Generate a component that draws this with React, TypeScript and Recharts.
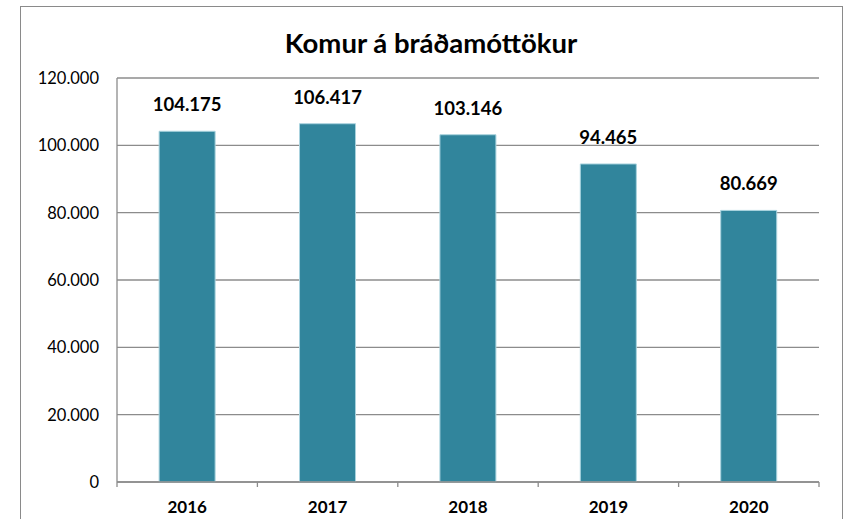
import { BarChart, Bar, XAxis, YAxis, CartesianGrid, LabelList } from "recharts";

const years = ["2016", "2017", "2018", "2019", "2020"];
const visits = [104175, 106417, 103146, 94465, 80669];
const yTicks = [0, 20000, 40000, 60000, 80000, 100000, 120000];

const W = 845;
const H = 519;
const LEFT = 117;
const RIGHT = 26;
const TOP = 78;
const BOTTOM = 37;
const BAND = (W - LEFT - RIGHT) / years.length;
const FONT = "Lato, 'Open Sans', sans-serif";
const GRID = "#8c8c8c";

const fmt = (v: number) => (v === 0 ? "0" : v.toLocaleString("de-DE"));

function YearTick(props: any) {
  const { x, y, payload, index } = props;
  return (
    <g>
      <line x1={x - BAND / 2} x2={x - BAND / 2} y1={y} y2={y + 5} stroke={GRID} strokeWidth={1.3} />
      {index === years.length - 1 && (
        <line x1={x + BAND / 2} x2={x + BAND / 2} y1={y} y2={y + 5} stroke={GRID} strokeWidth={1.3} />
      )}
      <text x={x} y={y + 31} textAnchor="middle" fontSize={17} fontWeight={700} fill="#000" fontFamily={FONT}>
        {payload.value}
      </text>
    </g>
  );
}

export default function App() {
  const data = years.map((year, i) => ({ year, value: visits[i] }));

  return (
    <div style={{ position: "absolute", left: 0, top: 0, width: W, height: H, overflow: "hidden", background: "#fff" }}>
      <div
        style={{
          position: "absolute",
          left: 20,
          top: 6,
          width: 821,
          height: 540,
          border: "1.5px solid #8a8a8a",
        }}
      />
      <div
        style={{
          position: "absolute",
          left: 20,
          width: 822,
          top: 26,
          textAlign: "center",
          fontFamily: FONT,
          fontWeight: 700,
          fontSize: 27.5,
          color: "#000",
        }}
      >
        Komur á bráðamóttökur
      </div>
      <BarChart
        width={W}
        height={H}
        data={data}
        margin={{ top: TOP, right: RIGHT, bottom: 0, left: 0 }}
        barCategoryGap="30%"
        style={{ position: "absolute", left: 0, top: 0 }}
      >
        <CartesianGrid vertical={false} stroke={GRID} strokeWidth={1.3} />
        <YAxis
          width={LEFT}
          domain={[0, 120000]}
          ticks={yTicks}
          tickFormatter={fmt}
          tickSize={0}
          tickMargin={18}
          axisLine={{ stroke: GRID, strokeWidth: 1.3 }}
          tick={{ fontSize: 16.5, fill: "#000", fontFamily: FONT }}
          interval={0}
        />
        <XAxis
          dataKey="year"
          height={BOTTOM}
          tickSize={0}
          tickMargin={0}
          axisLine={{ stroke: GRID, strokeWidth: 1.3 }}
          tick={<YearTick />}
          interval={0}
        />
        <Bar dataKey="value" fill="#31859c" stroke="#a9d3de" strokeWidth={1} isAnimationActive={false}>
          <LabelList
            dataKey="value"
            position="top"
            offset={20}
            formatter={(v: any) => fmt(Number(v))}
            style={{ fontSize: 18.5, fontWeight: 700, fill: "#000", fontFamily: FONT }}
          />
        </Bar>
      </BarChart>
    </div>
  );
}
